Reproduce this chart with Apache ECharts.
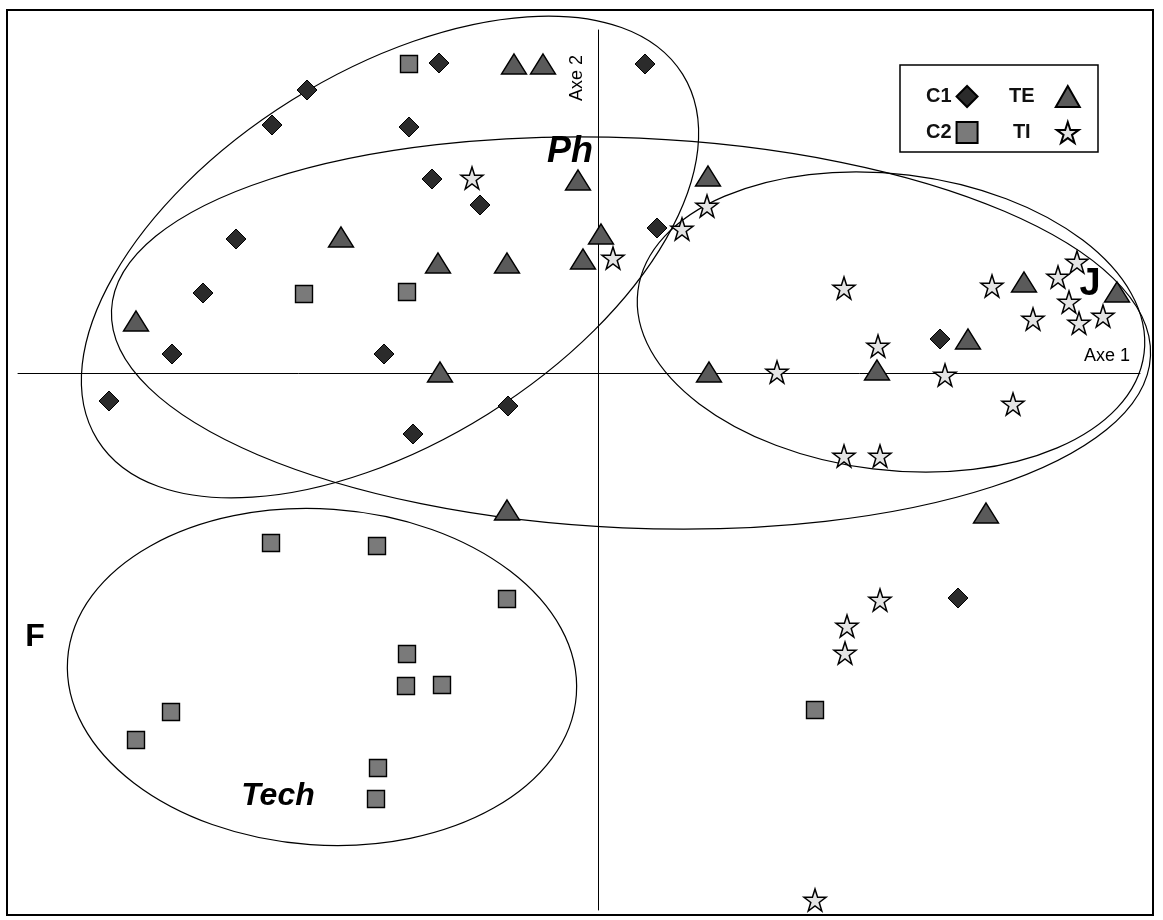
<!DOCTYPE html>
<html>
<head>
<meta charset="utf-8">
<script src="https://cdn.jsdelivr.net/npm/echarts@6/dist/echarts.min.js"></script>
<style>
html, body { margin: 0; padding: 0; background: #fff; }
#chart { width: 1163px; height: 920px; }
</style>
</head>
<body>
<div id="chart"></div>
<script>
// Factor map coordinates (Axe 1, Axe 2)
const C1 = [
    [-1.59, 3.10], [0.47, 3.09], [-2.91, 2.83], [-3.26, 2.48], [-1.89, 2.46],
    [-1.66, 1.94], [-1.18, 1.68], [-3.62, 1.34], [0.59, 1.45], [-3.95, 0.80],
    [-4.26, 0.19], [-2.14, 0.19], [-4.89, -0.28], [-0.90, -0.33], [-1.85, -0.61],
    [3.42, 0.34], [3.60, -2.25]
];
const C2 = [
    [-1.89, 3.09], [-2.94, 0.79], [-1.91, 0.81], [-3.27, -1.70], [-2.21, -1.73],
    [-0.91, -2.26], [-1.91, -2.81], [-1.92, -3.13], [-1.56, -3.12], [-4.27, -3.39],
    [-4.62, -3.67], [-2.20, -3.95], [-2.22, -4.26], [2.17, -3.37]
];
const TE = [
    [-0.84, 3.09], [-0.55, 3.09], [-0.20, 1.93], [1.10, 1.97], [-2.57, 1.36],
    [0.03, 1.39], [-1.60, 1.10], [-0.91, 1.10], [-0.15, 1.14], [-4.62, 0.52],
    [4.26, 0.91], [5.19, 0.81], [3.70, 0.34], [-1.58, 0.01], [1.11, 0.01],
    [2.79, 0.03], [-0.91, -1.37], [3.88, -1.40]
];
const TI = [
    [-1.26, 1.95], [1.09, 1.67], [0.84, 1.44], [0.15, 1.15], [2.46, 0.85],
    [3.94, 0.87], [4.60, 0.96], [4.79, 1.11], [4.71, 0.71], [4.35, 0.54],
    [4.81, 0.50], [5.05, 0.57], [2.80, 0.27], [1.79, 0.01], [3.47, -0.02],
    [4.15, -0.31], [2.46, -0.83], [2.82, -0.83], [2.82, -2.27], [2.49, -2.53],
    [2.47, -2.80], [2.17, -5.27]
];

// Group envelopes: centre, semi-axes (axis units), tilt in degrees (clockwise on screen)
const ellipses = [
    { c: [-2.08, 1.16], rx: 3.45, ry: 1.85, tilt: -32 },
    { c: [0.33, 0.40], rx: 5.2, ry: 1.95, tilt: 2.5 },
    { c: [2.93, 0.51], rx: 2.55, ry: 1.48, tilt: 7 },
    { c: [-2.76, -3.04], rx: 2.55, ry: 1.68, tilt: 4 }
];

// Group names placed in axis units
const groupNames = [
    { text: 'Ph', at: [-0.28, 2.21], size: 36, italic: true },
    { text: 'Tech', at: [-3.20, -4.23], size: 32, italic: true },
    { text: 'F', at: [-5.63, -2.64], size: 32, italic: false },
    { text: 'J', at: [4.92, 0.88], size: 38, italic: false }
];

const FONT = '"Liberation Sans", Arial, sans-serif';
const starPath = 'path://M50,2 L61,36 L97,36 L68,57 L79,92 L50,71 L21,92 L32,57 L3,36 L39,36 Z';

const chart = echarts.init(document.getElementById('chart'));

const legendText = { fontSize: 20, fontWeight: 'bold', fontFamily: FONT, color: '#111' };

chart.setOption({
    animation: false,
    backgroundColor: '#fff',
    grid: { left: 18, right: 23, top: 30, bottom: 10 },
    xAxis: {
        type: 'value', min: -5.8, max: 5.42,
        axisLine: { onZero: true, lineStyle: { color: '#000', width: 1 } },
        axisTick: { show: false }, axisLabel: { show: false }, splitLine: { show: false }
    },
    yAxis: {
        type: 'value', min: -5.37, max: 3.43,
        axisLine: { onZero: true, lineStyle: { color: '#000', width: 1 } },
        axisTick: { show: false }, axisLabel: { show: false }, splitLine: { show: false }
    },
    legend: [
        {
            data: ['C1', 'C2'], orient: 'vertical', left: 921, top: 80,
            align: 'right', itemGap: 13, itemWidth: 21, itemHeight: 21,
            selectedMode: false, textStyle: legendText
        },
        {
            data: ['TE', 'TI'], orient: 'vertical', left: 1004, top: 80,
            align: 'right', itemGap: 13, itemWidth: 24, itemHeight: 21,
            selectedMode: false,
            formatter: '{w|{name}}',
            textStyle: Object.assign({
                rich: { w: Object.assign({ width: 58, align: 'center' }, legendText) }
            }, legendText)
        }
    ],
    series: [
        {
            name: 'C1', type: 'scatter', data: C1, z: 5,
            symbol: 'diamond', symbolSize: [20, 20],
            itemStyle: { color: '#2b2b2b', borderColor: '#000', borderWidth: 1, opacity: 1 }
        },
        {
            name: 'C2', type: 'scatter', data: C2, z: 5,
            symbol: 'rect', symbolSize: [17, 17],
            itemStyle: { color: '#7a7a7a', borderColor: '#000', borderWidth: 1.4, opacity: 1 }
        },
        {
            name: 'TE', type: 'scatter', data: TE, z: 5,
            symbol: 'triangle', symbolSize: [25, 20],
            itemStyle: { color: '#5a5a5a', borderColor: '#000', borderWidth: 1.4, opacity: 1 }
        },
        {
            name: 'TI', type: 'scatter', data: TI, z: 5,
            symbol: starPath, symbolSize: [22, 22],
            itemStyle: { color: '#e4e4e4', borderColor: '#000', borderWidth: 1.5, opacity: 1 }
        }
    ]
});

// Ellipses, labels and frame are placed through the grid's own scale
const o = chart.convertToPixel({ gridIndex: 0 }, [0, 0]);
const u = chart.convertToPixel({ gridIndex: 0 }, [1, 1]);
const kx = u[0] - o[0];
const ky = o[1] - u[1];

const graphics = [
    {
        type: 'rect', z: 0, silent: true,
        shape: { x: 7, y: 10, width: 1146, height: 905 },
        style: { fill: 'none', stroke: '#000', lineWidth: 2 }
    },
    {
        type: 'rect', z: 0, silent: true,
        shape: { x: 900, y: 65, width: 198, height: 87 },
        style: { fill: '#fff', stroke: '#000', lineWidth: 1.5 }
    }
];

ellipses.forEach(e => {
    const p = chart.convertToPixel({ gridIndex: 0 }, e.c);
    graphics.push({
        type: 'ellipse', z: 0, silent: true,
        x: p[0], y: p[1], rotation: -e.tilt * Math.PI / 180,
        shape: { cx: 0, cy: 0, rx: e.rx * kx, ry: e.ry * ky },
        style: { fill: 'none', stroke: '#000', lineWidth: 1.2 }
    });
});

groupNames.forEach(g => {
    const p = chart.convertToPixel({ gridIndex: 0 }, g.at);
    graphics.push({
        type: 'text', z: 10, silent: true, x: p[0], y: p[1],
        style: {
            text: g.text, fill: '#000', align: 'center', verticalAlign: 'middle',
            font: (g.italic ? 'italic ' : '') + 'bold ' + g.size + 'px ' + FONT
        }
    });
});

// Axis names
graphics.push({
    type: 'text', z: 10, silent: true, x: 1107, y: 356,
    style: { text: 'Axe 1', fill: '#000', align: 'center', verticalAlign: 'middle', font: '18px ' + FONT }
});
graphics.push({
    type: 'text', z: 10, silent: true, x: 577, y: 78, rotation: Math.PI / 2,
    style: { text: 'Axe 2', fill: '#000', align: 'center', verticalAlign: 'middle', font: '18px ' + FONT }
});

chart.setOption({ graphic: graphics });
</script>
</body>
</html>
